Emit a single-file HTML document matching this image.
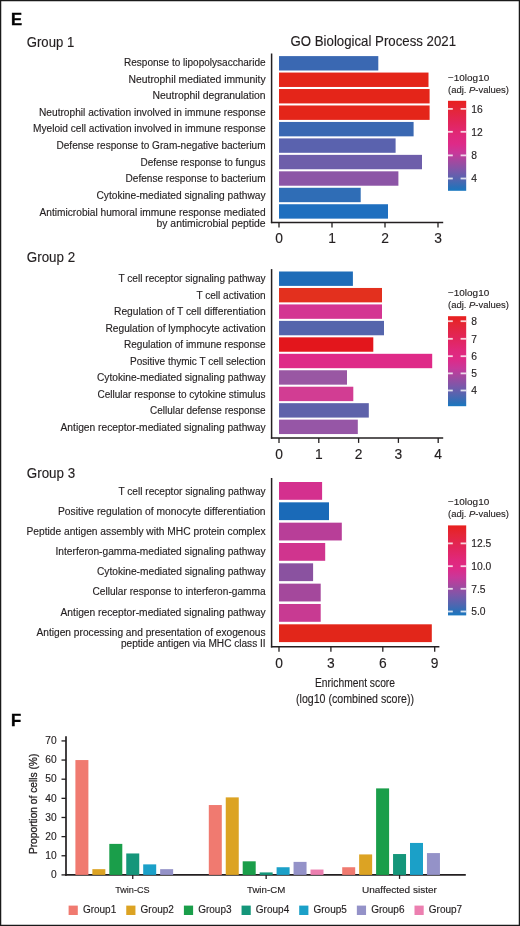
<!DOCTYPE html>
<html><head><meta charset="utf-8"><style>
html,body{margin:0;padding:0;background:#fff;}
svg{display:block;will-change:transform;}
svg text{font-family:"Liberation Sans", sans-serif;fill:#231f20;stroke:#231f20;stroke-width:0.14px;}
</style></head><body>
<svg width="520" height="926" viewBox="0 0 520 926">
<rect x="0" y="0" width="520" height="926" fill="#fff"/>
<text x="11.10" y="25.40" font-size="16.6" fill="#000" font-weight="bold" style="fill:#000;stroke:#000;stroke-width:0.4px">E</text>
<text x="26.80" y="46.60" font-size="14.2" textLength="47.40" lengthAdjust="spacingAndGlyphs">Group 1</text>
<text x="290.50" y="46.20" font-size="15" textLength="165.50" lengthAdjust="spacingAndGlyphs">GO Biological Process 2021</text>
<line x1="271.60" y1="53.50" x2="271.60" y2="223.20" stroke="#231f20" stroke-width="1.5"/>
<line x1="270.90" y1="222.50" x2="443.20" y2="222.50" stroke="#231f20" stroke-width="1.5"/>
<line x1="279.00" y1="222.50" x2="279.00" y2="227.40" stroke="#231f20" stroke-width="1.3"/>
<text x="279.00" y="243.30" font-size="13.8" text-anchor="middle">0</text>
<line x1="332.00" y1="222.50" x2="332.00" y2="227.40" stroke="#231f20" stroke-width="1.3"/>
<text x="332.00" y="243.30" font-size="13.8" text-anchor="middle">1</text>
<line x1="385.00" y1="222.50" x2="385.00" y2="227.40" stroke="#231f20" stroke-width="1.3"/>
<text x="385.00" y="243.30" font-size="13.8" text-anchor="middle">2</text>
<line x1="438.00" y1="222.50" x2="438.00" y2="227.40" stroke="#231f20" stroke-width="1.3"/>
<text x="438.00" y="243.30" font-size="13.8" text-anchor="middle">3</text>
<rect x="279.00" y="56.10" width="99.30" height="14.40" fill="#3a68b2"/>
<text x="265.60" y="65.90" font-size="10" text-anchor="end" textLength="141.60" lengthAdjust="spacingAndGlyphs">Response to lipopolysaccharide</text>
<rect x="279.00" y="72.56" width="149.50" height="14.40" fill="#e42519"/>
<text x="265.60" y="82.50" font-size="10" text-anchor="end" textLength="137.10" lengthAdjust="spacingAndGlyphs">Neutrophil mediated immunity</text>
<rect x="279.00" y="89.02" width="150.60" height="14.40" fill="#e42519"/>
<text x="265.60" y="99.10" font-size="10" text-anchor="end" textLength="113.10" lengthAdjust="spacingAndGlyphs">Neutrophil degranulation</text>
<rect x="279.00" y="105.48" width="150.60" height="14.40" fill="#e42519"/>
<text x="265.60" y="115.70" font-size="10" text-anchor="end" textLength="226.60" lengthAdjust="spacingAndGlyphs">Neutrophil activation involved in immune response</text>
<rect x="279.00" y="121.94" width="134.60" height="14.40" fill="#3a68b2"/>
<text x="265.60" y="132.30" font-size="10" text-anchor="end" textLength="232.60" lengthAdjust="spacingAndGlyphs">Myeloid cell activation involved in immune response</text>
<rect x="279.00" y="138.40" width="116.60" height="14.40" fill="#5a62ae"/>
<text x="265.60" y="148.90" font-size="10" text-anchor="end" textLength="209.10" lengthAdjust="spacingAndGlyphs">Defense response to Gram-negative bacterium</text>
<rect x="279.00" y="154.86" width="143.00" height="14.40" fill="#6e5eaa"/>
<text x="265.60" y="165.50" font-size="10" text-anchor="end" textLength="125.10" lengthAdjust="spacingAndGlyphs">Defense response to fungus</text>
<rect x="279.00" y="171.32" width="119.40" height="14.40" fill="#8c55a6"/>
<text x="265.60" y="182.10" font-size="10" text-anchor="end" textLength="140.10" lengthAdjust="spacingAndGlyphs">Defense response to bacterium</text>
<rect x="279.00" y="187.78" width="81.70" height="14.40" fill="#2f6db6"/>
<text x="265.60" y="198.70" font-size="10" text-anchor="end" textLength="169.10" lengthAdjust="spacingAndGlyphs">Cytokine-mediated signaling pathway</text>
<rect x="279.00" y="204.24" width="109.00" height="14.40" fill="#1f6fbf"/>
<text x="265.60" y="215.50" font-size="10" text-anchor="end" textLength="226.10" lengthAdjust="spacingAndGlyphs">Antimicrobial humoral immune response mediated</text>
<text x="265.60" y="227.10" font-size="10" text-anchor="end" textLength="109.10" lengthAdjust="spacingAndGlyphs">by antimicrobial peptide</text>
<text x="448.00" y="80.85" font-size="9.9" textLength="41.20" lengthAdjust="spacingAndGlyphs">&#8722;10log10</text>
<text x="448" y="92.50" font-size="9.9" textLength="61" lengthAdjust="spacingAndGlyphs">(adj. <tspan font-style="italic">P</tspan>-values)</text>
<defs><linearGradient id="g1" x1="0" y1="1" x2="0" y2="0"><stop offset="0" stop-color="#1a78c0"/><stop offset="0.04" stop-color="#2a70b8"/><stop offset="0.12" stop-color="#5066b0"/><stop offset="0.22" stop-color="#7a58aa"/><stop offset="0.32" stop-color="#a04aa0"/><stop offset="0.42" stop-color="#c8389a"/><stop offset="0.52" stop-color="#de2a88"/><stop offset="0.62" stop-color="#e0287a"/><stop offset="0.76" stop-color="#e2255a"/><stop offset="0.9" stop-color="#e42638"/><stop offset="1" stop-color="#e8201e"/></linearGradient></defs>
<rect x="448.00" y="100.80" width="18.20" height="90.00" fill="url(#g1)"/>
<line x1="448.00" y1="108.90" x2="452.80" y2="108.90" stroke="rgba(255,255,255,0.8)" stroke-width="1.8"/>
<line x1="460.60" y1="108.90" x2="466.20" y2="108.90" stroke="rgba(255,255,255,0.8)" stroke-width="1.8"/>
<text x="471.20" y="112.60" font-size="10.3">16</text>
<line x1="448.00" y1="131.80" x2="452.80" y2="131.80" stroke="rgba(255,255,255,0.8)" stroke-width="1.8"/>
<line x1="460.60" y1="131.80" x2="466.20" y2="131.80" stroke="rgba(255,255,255,0.8)" stroke-width="1.8"/>
<text x="471.20" y="135.50" font-size="10.3">12</text>
<line x1="448.00" y1="155.40" x2="452.80" y2="155.40" stroke="rgba(255,255,255,0.8)" stroke-width="1.8"/>
<line x1="460.60" y1="155.40" x2="466.20" y2="155.40" stroke="rgba(255,255,255,0.8)" stroke-width="1.8"/>
<text x="471.20" y="159.10" font-size="10.3">8</text>
<line x1="448.00" y1="178.50" x2="452.80" y2="178.50" stroke="rgba(255,255,255,0.8)" stroke-width="1.8"/>
<line x1="460.60" y1="178.50" x2="466.20" y2="178.50" stroke="rgba(255,255,255,0.8)" stroke-width="1.8"/>
<text x="471.20" y="182.20" font-size="10.3">4</text>
<text x="26.80" y="262.20" font-size="14.2" textLength="48.30" lengthAdjust="spacingAndGlyphs">Group 2</text>
<line x1="271.60" y1="269.10" x2="271.60" y2="438.70" stroke="#231f20" stroke-width="1.5"/>
<line x1="270.90" y1="438.00" x2="443.20" y2="438.00" stroke="#231f20" stroke-width="1.5"/>
<line x1="279.00" y1="438.00" x2="279.00" y2="442.90" stroke="#231f20" stroke-width="1.3"/>
<text x="279.00" y="459.00" font-size="13.8" text-anchor="middle">0</text>
<line x1="318.80" y1="438.00" x2="318.80" y2="442.90" stroke="#231f20" stroke-width="1.3"/>
<text x="318.80" y="459.00" font-size="13.8" text-anchor="middle">1</text>
<line x1="358.60" y1="438.00" x2="358.60" y2="442.90" stroke="#231f20" stroke-width="1.3"/>
<text x="358.60" y="459.00" font-size="13.8" text-anchor="middle">2</text>
<line x1="398.40" y1="438.00" x2="398.40" y2="442.90" stroke="#231f20" stroke-width="1.3"/>
<text x="398.40" y="459.00" font-size="13.8" text-anchor="middle">3</text>
<line x1="438.20" y1="438.00" x2="438.20" y2="442.90" stroke="#231f20" stroke-width="1.3"/>
<text x="438.20" y="459.00" font-size="13.8" text-anchor="middle">4</text>
<rect x="279.00" y="271.50" width="73.90" height="14.40" fill="#1f6cb8"/>
<text x="265.60" y="282.10" font-size="10" text-anchor="end" textLength="147.10" lengthAdjust="spacingAndGlyphs">T cell receptor signaling pathway</text>
<rect x="279.00" y="287.96" width="103.00" height="14.40" fill="#e3301e"/>
<text x="265.60" y="298.63" font-size="10" text-anchor="end" textLength="69.10" lengthAdjust="spacingAndGlyphs">T cell activation</text>
<rect x="279.00" y="304.42" width="103.00" height="14.40" fill="#d43592"/>
<text x="265.60" y="315.16" font-size="10" text-anchor="end" textLength="151.60" lengthAdjust="spacingAndGlyphs">Regulation of T cell differentiation</text>
<rect x="279.00" y="320.88" width="105.00" height="14.40" fill="#5565ac"/>
<text x="265.60" y="331.69" font-size="10" text-anchor="end" textLength="160.10" lengthAdjust="spacingAndGlyphs">Regulation of lymphocyte activation</text>
<rect x="279.00" y="337.34" width="94.30" height="14.40" fill="#e3161c"/>
<text x="265.60" y="348.22" font-size="10" text-anchor="end" textLength="141.60" lengthAdjust="spacingAndGlyphs">Regulation of immune response</text>
<rect x="279.00" y="353.80" width="153.20" height="14.40" fill="#df2a88"/>
<text x="265.60" y="364.75" font-size="10" text-anchor="end" textLength="135.60" lengthAdjust="spacingAndGlyphs">Positive thymic T cell selection</text>
<rect x="279.00" y="370.26" width="68.00" height="14.40" fill="#9957a3"/>
<text x="265.60" y="381.28" font-size="10" text-anchor="end" textLength="168.60" lengthAdjust="spacingAndGlyphs">Cytokine-mediated signaling pathway</text>
<rect x="279.00" y="386.72" width="74.30" height="14.40" fill="#d23d93"/>
<text x="265.60" y="397.81" font-size="10" text-anchor="end" textLength="168.10" lengthAdjust="spacingAndGlyphs">Cellular response to cytokine stimulus</text>
<rect x="279.00" y="403.18" width="89.80" height="14.40" fill="#5e62aa"/>
<text x="265.60" y="414.34" font-size="10" text-anchor="end" textLength="115.60" lengthAdjust="spacingAndGlyphs">Cellular defense response</text>
<rect x="279.00" y="419.64" width="78.80" height="14.40" fill="#9656a6"/>
<text x="265.60" y="430.87" font-size="10" text-anchor="end" textLength="205.10" lengthAdjust="spacingAndGlyphs">Antigen receptor-mediated signaling pathway</text>
<text x="448.00" y="296.25" font-size="9.9" textLength="41.20" lengthAdjust="spacingAndGlyphs">&#8722;10log10</text>
<text x="448" y="307.90" font-size="9.9" textLength="61" lengthAdjust="spacingAndGlyphs">(adj. <tspan font-style="italic">P</tspan>-values)</text>
<defs><linearGradient id="g2" x1="0" y1="1" x2="0" y2="0"><stop offset="0" stop-color="#1a78c0"/><stop offset="0.04" stop-color="#2a70b8"/><stop offset="0.12" stop-color="#5066b0"/><stop offset="0.22" stop-color="#7a58aa"/><stop offset="0.32" stop-color="#a04aa0"/><stop offset="0.42" stop-color="#c8389a"/><stop offset="0.52" stop-color="#de2a88"/><stop offset="0.62" stop-color="#e0287a"/><stop offset="0.76" stop-color="#e2255a"/><stop offset="0.9" stop-color="#e42638"/><stop offset="1" stop-color="#e8201e"/></linearGradient></defs>
<rect x="448.00" y="316.20" width="18.20" height="90.00" fill="url(#g2)"/>
<line x1="448.00" y1="321.20" x2="452.80" y2="321.20" stroke="rgba(255,255,255,0.8)" stroke-width="1.8"/>
<line x1="460.60" y1="321.20" x2="466.20" y2="321.20" stroke="rgba(255,255,255,0.8)" stroke-width="1.8"/>
<text x="471.20" y="324.90" font-size="10.3">8</text>
<line x1="448.00" y1="338.80" x2="452.80" y2="338.80" stroke="rgba(255,255,255,0.8)" stroke-width="1.8"/>
<line x1="460.60" y1="338.80" x2="466.20" y2="338.80" stroke="rgba(255,255,255,0.8)" stroke-width="1.8"/>
<text x="471.20" y="342.50" font-size="10.3">7</text>
<line x1="448.00" y1="356.20" x2="452.80" y2="356.20" stroke="rgba(255,255,255,0.8)" stroke-width="1.8"/>
<line x1="460.60" y1="356.20" x2="466.20" y2="356.20" stroke="rgba(255,255,255,0.8)" stroke-width="1.8"/>
<text x="471.20" y="359.90" font-size="10.3">6</text>
<line x1="448.00" y1="373.40" x2="452.80" y2="373.40" stroke="rgba(255,255,255,0.8)" stroke-width="1.8"/>
<line x1="460.60" y1="373.40" x2="466.20" y2="373.40" stroke="rgba(255,255,255,0.8)" stroke-width="1.8"/>
<text x="471.20" y="377.10" font-size="10.3">5</text>
<line x1="448.00" y1="390.50" x2="452.80" y2="390.50" stroke="rgba(255,255,255,0.8)" stroke-width="1.8"/>
<line x1="460.60" y1="390.50" x2="466.20" y2="390.50" stroke="rgba(255,255,255,0.8)" stroke-width="1.8"/>
<text x="471.20" y="394.20" font-size="10.3">4</text>
<text x="26.80" y="477.60" font-size="14.2" textLength="48.30" lengthAdjust="spacingAndGlyphs">Group 3</text>
<line x1="271.60" y1="478.00" x2="271.60" y2="647.45" stroke="#231f20" stroke-width="1.5"/>
<line x1="270.90" y1="646.75" x2="439.40" y2="646.75" stroke="#231f20" stroke-width="1.5"/>
<line x1="279.00" y1="646.75" x2="279.00" y2="651.65" stroke="#231f20" stroke-width="1.3"/>
<text x="279.00" y="667.60" font-size="13.8" text-anchor="middle">0</text>
<line x1="330.90" y1="646.75" x2="330.90" y2="651.65" stroke="#231f20" stroke-width="1.3"/>
<text x="330.90" y="667.60" font-size="13.8" text-anchor="middle">3</text>
<line x1="382.80" y1="646.75" x2="382.80" y2="651.65" stroke="#231f20" stroke-width="1.3"/>
<text x="382.80" y="667.60" font-size="13.8" text-anchor="middle">6</text>
<line x1="434.70" y1="646.75" x2="434.70" y2="651.65" stroke="#231f20" stroke-width="1.3"/>
<text x="434.70" y="667.60" font-size="13.8" text-anchor="middle">9</text>
<rect x="279.00" y="482.00" width="43.10" height="17.80" fill="#d4308e"/>
<text x="265.60" y="494.60" font-size="10" text-anchor="end" textLength="147.10" lengthAdjust="spacingAndGlyphs">T cell receptor signaling pathway</text>
<rect x="279.00" y="502.33" width="50.00" height="17.80" fill="#1a6ab8"/>
<text x="265.60" y="514.77" font-size="10" text-anchor="end" textLength="207.60" lengthAdjust="spacingAndGlyphs">Positive regulation of monocyte differentiation</text>
<rect x="279.00" y="522.66" width="62.80" height="17.80" fill="#b83e98"/>
<text x="265.60" y="534.94" font-size="10" text-anchor="end" textLength="239.10" lengthAdjust="spacingAndGlyphs">Peptide antigen assembly with MHC protein complex</text>
<rect x="279.00" y="542.99" width="46.20" height="17.80" fill="#d0348e"/>
<text x="265.60" y="555.11" font-size="10" text-anchor="end" textLength="210.10" lengthAdjust="spacingAndGlyphs">Interferon-gamma-mediated signaling pathway</text>
<rect x="279.00" y="563.32" width="34.10" height="17.80" fill="#8a52a0"/>
<text x="265.60" y="575.28" font-size="10" text-anchor="end" textLength="168.60" lengthAdjust="spacingAndGlyphs">Cytokine-mediated signaling pathway</text>
<rect x="279.00" y="583.65" width="41.70" height="17.80" fill="#a4489c"/>
<text x="265.60" y="595.45" font-size="10" text-anchor="end" textLength="173.10" lengthAdjust="spacingAndGlyphs">Cellular response to interferon-gamma</text>
<rect x="279.00" y="603.98" width="41.70" height="17.80" fill="#c83a92"/>
<text x="265.60" y="615.62" font-size="10" text-anchor="end" textLength="205.10" lengthAdjust="spacingAndGlyphs">Antigen receptor-mediated signaling pathway</text>
<rect x="279.00" y="624.31" width="152.80" height="17.80" fill="#e2261a"/>
<text x="265.60" y="635.50" font-size="10" text-anchor="end" textLength="229.10" lengthAdjust="spacingAndGlyphs">Antigen processing and presentation of exogenous</text>
<text x="265.60" y="647.20" font-size="10" text-anchor="end" textLength="144.60" lengthAdjust="spacingAndGlyphs">peptide antigen via MHC class II</text>
<text x="448.00" y="505.45" font-size="9.9" textLength="41.20" lengthAdjust="spacingAndGlyphs">&#8722;10log10</text>
<text x="448" y="517.10" font-size="9.9" textLength="61" lengthAdjust="spacingAndGlyphs">(adj. <tspan font-style="italic">P</tspan>-values)</text>
<defs><linearGradient id="g3" x1="0" y1="1" x2="0" y2="0"><stop offset="0" stop-color="#1a78c0"/><stop offset="0.04" stop-color="#2a70b8"/><stop offset="0.12" stop-color="#5066b0"/><stop offset="0.22" stop-color="#7a58aa"/><stop offset="0.32" stop-color="#a04aa0"/><stop offset="0.42" stop-color="#c8389a"/><stop offset="0.52" stop-color="#de2a88"/><stop offset="0.62" stop-color="#e0287a"/><stop offset="0.76" stop-color="#e2255a"/><stop offset="0.9" stop-color="#e42638"/><stop offset="1" stop-color="#e8201e"/></linearGradient></defs>
<rect x="448.00" y="525.40" width="18.20" height="90.00" fill="url(#g3)"/>
<line x1="448.00" y1="543.40" x2="452.80" y2="543.40" stroke="rgba(255,255,255,0.8)" stroke-width="1.8"/>
<line x1="460.60" y1="543.40" x2="466.20" y2="543.40" stroke="rgba(255,255,255,0.8)" stroke-width="1.8"/>
<text x="471.20" y="547.10" font-size="10.3">12.5</text>
<line x1="448.00" y1="566.20" x2="452.80" y2="566.20" stroke="rgba(255,255,255,0.8)" stroke-width="1.8"/>
<line x1="460.60" y1="566.20" x2="466.20" y2="566.20" stroke="rgba(255,255,255,0.8)" stroke-width="1.8"/>
<text x="471.20" y="569.90" font-size="10.3">10.0</text>
<line x1="448.00" y1="588.80" x2="452.80" y2="588.80" stroke="rgba(255,255,255,0.8)" stroke-width="1.8"/>
<line x1="460.60" y1="588.80" x2="466.20" y2="588.80" stroke="rgba(255,255,255,0.8)" stroke-width="1.8"/>
<text x="471.20" y="592.50" font-size="10.3">7.5</text>
<line x1="448.00" y1="611.50" x2="452.80" y2="611.50" stroke="rgba(255,255,255,0.8)" stroke-width="1.8"/>
<line x1="460.60" y1="611.50" x2="466.20" y2="611.50" stroke="rgba(255,255,255,0.8)" stroke-width="1.8"/>
<text x="471.20" y="615.20" font-size="10.3">5.0</text>
<text x="355.00" y="686.80" font-size="12.5" text-anchor="middle" textLength="80.00" lengthAdjust="spacingAndGlyphs">Enrichment score</text>
<text x="355.00" y="703.30" font-size="12.5" text-anchor="middle" textLength="118.00" lengthAdjust="spacingAndGlyphs">(log10 (combined score))</text>
<text x="11.10" y="725.80" font-size="16.6" fill="#000" font-weight="bold" style="fill:#000;stroke:#000;stroke-width:0.4px">F</text>
<line x1="66.00" y1="736.20" x2="66.00" y2="875.80" stroke="#231f20" stroke-width="1.7"/>
<line x1="65.20" y1="874.90" x2="465.80" y2="874.90" stroke="#231f20" stroke-width="1.9"/>
<line x1="61.50" y1="874.90" x2="66.00" y2="874.90" stroke="#231f20" stroke-width="1.3"/>
<text x="56.60" y="878.10" font-size="10.2" text-anchor="end">0</text>
<line x1="61.50" y1="855.76" x2="66.00" y2="855.76" stroke="#231f20" stroke-width="1.3"/>
<text x="56.60" y="858.96" font-size="10.2" text-anchor="end">10</text>
<line x1="61.50" y1="836.62" x2="66.00" y2="836.62" stroke="#231f20" stroke-width="1.3"/>
<text x="56.60" y="839.82" font-size="10.2" text-anchor="end">20</text>
<line x1="61.50" y1="817.48" x2="66.00" y2="817.48" stroke="#231f20" stroke-width="1.3"/>
<text x="56.60" y="820.68" font-size="10.2" text-anchor="end">30</text>
<line x1="61.50" y1="798.34" x2="66.00" y2="798.34" stroke="#231f20" stroke-width="1.3"/>
<text x="56.60" y="801.54" font-size="10.2" text-anchor="end">40</text>
<line x1="61.50" y1="779.20" x2="66.00" y2="779.20" stroke="#231f20" stroke-width="1.3"/>
<text x="56.60" y="782.40" font-size="10.2" text-anchor="end">50</text>
<line x1="61.50" y1="760.06" x2="66.00" y2="760.06" stroke="#231f20" stroke-width="1.3"/>
<text x="56.60" y="763.26" font-size="10.2" text-anchor="end">60</text>
<line x1="61.50" y1="740.92" x2="66.00" y2="740.92" stroke="#231f20" stroke-width="1.3"/>
<text x="56.60" y="744.12" font-size="10.2" text-anchor="end">70</text>
<rect x="75.40" y="760.06" width="13.00" height="114.84" fill="#f07a70"/>
<rect x="92.35" y="869.16" width="13.00" height="5.74" fill="#dca323"/>
<rect x="109.30" y="843.89" width="13.00" height="31.01" fill="#1a9e4a"/>
<rect x="126.25" y="853.46" width="13.00" height="21.44" fill="#15967a"/>
<rect x="143.20" y="864.37" width="13.00" height="10.53" fill="#1ba0c8"/>
<rect x="160.15" y="869.16" width="13.00" height="5.74" fill="#9492c8"/>
<line x1="132.75" y1="874.90" x2="132.75" y2="878.90" stroke="#231f20" stroke-width="1.3"/>
<rect x="208.80" y="805.04" width="13.00" height="69.86" fill="#f07a70"/>
<rect x="225.75" y="797.38" width="13.00" height="77.52" fill="#dca323"/>
<rect x="242.70" y="861.31" width="13.00" height="13.59" fill="#1a9e4a"/>
<rect x="259.65" y="872.41" width="13.00" height="2.49" fill="#15967a"/>
<rect x="276.60" y="867.24" width="13.00" height="7.66" fill="#1ba0c8"/>
<rect x="293.55" y="861.88" width="13.00" height="13.02" fill="#9492c8"/>
<rect x="310.50" y="869.54" width="13.00" height="5.36" fill="#ec7fb0"/>
<line x1="266.15" y1="874.90" x2="266.15" y2="878.90" stroke="#231f20" stroke-width="1.3"/>
<rect x="342.20" y="867.24" width="13.00" height="7.66" fill="#f07a70"/>
<rect x="359.15" y="854.42" width="13.00" height="20.48" fill="#dca323"/>
<rect x="376.10" y="788.39" width="13.00" height="86.51" fill="#1a9e4a"/>
<rect x="393.05" y="854.04" width="13.00" height="20.86" fill="#15967a"/>
<rect x="410.00" y="842.94" width="13.00" height="31.96" fill="#1ba0c8"/>
<rect x="426.95" y="853.08" width="13.00" height="21.82" fill="#9492c8"/>
<line x1="399.55" y1="874.90" x2="399.55" y2="878.90" stroke="#231f20" stroke-width="1.3"/>
<text x="132.40" y="892.80" font-size="9.3" text-anchor="middle" textLength="34.50" lengthAdjust="spacingAndGlyphs">Twin-CS</text>
<text x="266.10" y="892.70" font-size="9.3" text-anchor="middle" textLength="38.20" lengthAdjust="spacingAndGlyphs">Twin-CM</text>
<text x="399.40" y="892.80" font-size="9.3" text-anchor="middle" textLength="74.90" lengthAdjust="spacingAndGlyphs">Unaffected sister</text>
<text x="36.7" y="803.9" font-size="11.2" text-anchor="middle" transform="rotate(-90 36.7 803.9)" textLength="100.4" lengthAdjust="spacingAndGlyphs" style="stroke-width:0.3px">Proportion of cells (%)</text>
<rect x="68.60" y="905.60" width="9.20" height="9.40" fill="#f07a70"/>
<text x="82.90" y="913.30" font-size="10">Group1</text>
<rect x="126.25" y="905.60" width="9.20" height="9.40" fill="#dca323"/>
<text x="140.55" y="913.30" font-size="10">Group2</text>
<rect x="183.90" y="905.60" width="9.20" height="9.40" fill="#1a9e4a"/>
<text x="198.20" y="913.30" font-size="10">Group3</text>
<rect x="241.55" y="905.60" width="9.20" height="9.40" fill="#15967a"/>
<text x="255.85" y="913.30" font-size="10">Group4</text>
<rect x="299.20" y="905.60" width="9.20" height="9.40" fill="#1ba0c8"/>
<text x="313.50" y="913.30" font-size="10">Group5</text>
<rect x="356.85" y="905.60" width="9.20" height="9.40" fill="#9492c8"/>
<text x="371.15" y="913.30" font-size="10">Group6</text>
<rect x="414.50" y="905.60" width="9.20" height="9.40" fill="#ec7fb0"/>
<text x="428.80" y="913.30" font-size="10">Group7</text>
<rect x="0.6" y="0.6" width="518.8" height="924.8" fill="none" stroke="#1a1a1a" stroke-width="1.3"/>
</svg>
</body></html>
